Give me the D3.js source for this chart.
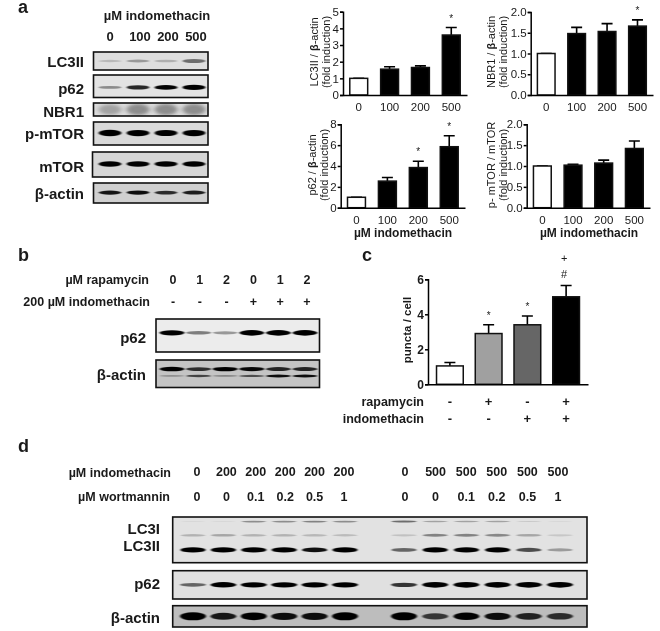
<!DOCTYPE html>
<html>
<head>
<meta charset="utf-8">
<script src="https://d3js.org/d3.v7.min.js"></script>
<style>
    html, body { margin: 0; padding: 0; background: #fff; }
    svg { display: block; filter: blur(0.3px); }
    text { font-family: "Liberation Sans", Arial, sans-serif; fill: #1a1a1a; }
    .bold { font-weight: bold; }
</style>
</head>
<body>
<svg width="660" height="631"></svg>
<script>
// bar chart values
var doseLabels = ["0", "100", "200", "500"];
var lc3Values = [1, 1.55, 1.65, 3.6];
var lc3Errors = [0, 0.15, 0.1, 0.45];
var lc3Stars = ["", "", "", "*"];
var nbr1Values = [1, 1.48, 1.53, 1.66];
var nbr1Errors = [0, 0.15, 0.19, 0.15];
var nbr1Stars = ["", "", "", "*"];
var p62Values = [1, 2.55, 3.85, 5.85];
var p62Errors = [0, 0.35, 0.6, 1.05];
var p62Stars = ["", "", "*", "*"];
var mtorValues = [1, 1.02, 1.07, 1.42];
var mtorErrors = [0, 0.02, 0.07, 0.18];
var mtorStars = ["", "", "", ""];

var punctaGroups = ["control", "rapamycin", "indomethacin", "both"];
var punctaValues = [1.05, 2.9, 3.4, 5.0];
var punctaErrors = [0.2, 0.5, 0.5, 0.65];
var punctaStars = ["", "*", "*", ""];
var punctaFills = ["#ffffff", "#a0a0a0", "#666666", "#000000"];
var rapamycinSigns = ["-", "+", "-", "+"];
var indomethacinSigns = ["-", "-", "+", "+"];

// blot band strengths per lane (0 = none, 1 = black)
var blotALc3 = [0.18, 0.33, 0.22, 0.55];
var blotAP62 = [0.35, 0.75, 0.9, 1];
var blotANbr1 = [0.3, 0.42, 0.42, 0.42];
var blotAPmtor = [1, 0.95, 0.92, 0.95];
var blotAMtor = [0.95, 0.92, 0.92, 0.95];
var blotAActin = [0.82, 0.85, 0.72, 0.78];

var blotBLabelsRapa = ["0", "1", "2", "0", "1", "2"];
var blotBLabelsIndo = ["-", "-", "-", "+", "+", "+"];
var blotBP62 = [0.9, 0.42, 0.32, 1, 1, 1];
var blotBActinUpper = [0.95, 0.7, 0.92, 0.88, 0.75, 0.75];
var blotBActinLower = [0.25, 0.6, 0.3, 0.55, 0.85, 0.85];

var blotDIndo = ["0", "200", "200", "200", "200", "200", "0", "500", "500", "500", "500", "500"];
var blotDWort = ["0", "0", "0.1", "0.2", "0.5", "1", "0", "0", "0.1", "0.2", "0.5", "1"];
var blotDTopBand = [0.05, 0.05, 0.4, 0.4, 0.45, 0.4, 0.55, 0.3, 0.3, 0.3, 0.12, 0.05];
var blotDLc3i = [0.22, 0.28, 0.22, 0.22, 0.2, 0.18, 0.15, 0.45, 0.45, 0.42, 0.28, 0.12];
var blotDLc3ii = [0.95, 0.95, 0.95, 0.95, 0.85, 0.95, 0.5, 1, 1, 1, 0.6, 0.28];
var blotDP62 = [0.5, 0.98, 0.92, 0.92, 0.92, 0.95, 0.7, 1, 1, 1, 1, 1];
var blotDActin = [1, 0.8, 0.95, 0.85, 0.85, 1, 1, 0.65, 0.9, 0.85, 0.75, 0.7];

var svg = d3.select("svg");

var defs = svg.append("defs");
defs.append("filter").attr("id", "band").attr("x", "-30%").attr("y", "-150%").attr("width", "160%").attr("height", "400%")
    .append("feGaussianBlur").attr("stdDeviation", "1.1 0.7");
defs.append("filter").attr("id", "smear").attr("x", "-30%").attr("y", "-50%").attr("width", "160%").attr("height", "200%")
    .append("feGaussianBlur").attr("stdDeviation", "2.5 1.5");

var label = function(x, y, txt, size, anchor, bold) {
    return svg.append("text")
        .attr("x", x)
        .attr("y", y)
        .attr("text-anchor", anchor || "middle")
        .attr("font-size", size)
        .attr("class", bold === false ? "" : "bold")
        .text(txt);
};

// a framed blot with rows of bands
var drawBlot = function(box, rows, laneX, bandWidth) {
    var w = box.x1 - box.x0;
    var h = box.y1 - box.y0;
    var clipId = "clip" + box.x0 + "-" + box.y0;
    defs.append("clipPath").attr("id", clipId)
        .append("rect").attr("x", box.x0).attr("y", box.y0).attr("width", w).attr("height", h);

    var g = svg.append("g").attr("clip-path", "url(#" + clipId + ")");
    g.append("rect")
        .attr("x", box.x0).attr("y", box.y0).attr("width", w).attr("height", h)
        .attr("fill", box.bg);

    rows.forEach(function(row) {
        var strength = d3.scaleLinear().domain([0, 1]).range([row.thin, row.thick]);
        g.selectAll(null)
            .data(row.values)
            .enter().append("ellipse")
                .attr("cx", function(d, i) { return laneX(i); })
                .attr("cy", box.y0 + h * row.at)
                .attr("rx", bandWidth / 2)
                .attr("ry", function(d) { return strength(d); })
                .attr("fill", row.color || "#000")
                .attr("opacity", function(d) { return Math.min(1, d * 1.1); })
                .attr("filter", row.smear ? "url(#smear)" : "url(#band)");
    });

    svg.append("rect")
        .attr("x", box.x0).attr("y", box.y0).attr("width", w).attr("height", h)
        .attr("fill", "none")
        .attr("stroke", "#111")
        .attr("stroke-width", 1.6);
};

// one bar chart with its axes, error bars and stars
var drawBars = function(opt) {
    var x = d3.scaleBand()
        .domain(opt.categories)
        .range([opt.left, opt.right])
        .paddingInner(opt.inner)
        .paddingOuter(opt.outer);
    var y = d3.scaleLinear().domain([0, opt.max]).range([opt.bottom, opt.top]);

    var g = svg.append("g");

    g.append("g").selectAll("path")
        .data(opt.values)
        .enter().append("path")
            .attr("fill", "none")
            .attr("stroke", "#000")
            .attr("stroke-width", 1.6)
            .attr("d", function(d, i) {
                var cx = x(opt.categories[i]) + x.bandwidth() / 2;
                var top = y(d + opt.errors[i]);
                return "M" + cx + "," + y(d) + "V" + top + "M" + (cx - 5.5) + "," + top + "H" + (cx + 5.5);
            });

    g.append("g").selectAll("rect")
        .data(opt.values)
        .enter().append("rect")
            .attr("x", function(d, i) { return x(opt.categories[i]); })
            .attr("y", function(d) { return y(d); })
            .attr("width", x.bandwidth())
            .attr("height", function(d) { return y(0) - y(d); })
            .attr("fill", function(d, i) { return opt.fills ? opt.fills[i] : (i ? "#000" : "#fff"); })
            .attr("stroke", "#111")
            .attr("stroke-width", 1.5);

    var yAxis = g.append("g")
        .attr("transform", "translate(" + opt.left + ",0)")
        .call(d3.axisLeft(y).tickValues(opt.ticks).tickSize(3).tickPadding(1).tickFormat(opt.format));
    var xAxis = g.append("g")
        .attr("transform", "translate(0," + opt.bottom + ")")
        .call(d3.axisBottom(x).tickSize(0).tickPadding(opt.xPad));

    [yAxis, xAxis].forEach(function(a) {
        a.attr("font-family", null);
        a.selectAll("path, line").attr("stroke", "#000").attr("stroke-width", 1.5);
        a.selectAll("text").attr("font-size", opt.fontSize).attr("class", opt.boldTicks ? "bold" : "");
    });
    if (opt.hideXLabels) xAxis.selectAll("text").remove();

    g.append("g").selectAll("text")
        .data(opt.stars)
        .enter().append("text")
            .attr("x", function(d, i) { return x(opt.categories[i]) + x.bandwidth() / 2; })
            .attr("y", function(d, i) { return y(opt.values[i] + opt.errors[i]) - 6; })
            .attr("text-anchor", "middle")
            .attr("font-size", 10)
            .text(function(d) { return d; });
    return x;
};

// rotated two line y label, with the bold beta kept as a tspan
var yTitle = function(x, y, first, second) {
    var t = svg.append("text")
        .attr("transform", "translate(" + x + "," + y + ") rotate(-90)")
        .attr("text-anchor", "middle")
        .attr("font-size", 11);
    first.forEach(function(part) {
        t.append("tspan").attr("class", part.bold ? "bold" : "").text(part.text);
    });
    svg.append("text")
        .attr("transform", "translate(" + (x + 11.5) + "," + y + ") rotate(-90)")
        .attr("text-anchor", "middle")
        .attr("font-size", 11)
        .text(second);
};

// ---- panel a
label(18, 13, "a", 18, "start");
label(157, 20, "µM indomethacin", 13, "middle");

var laneA = d3.scalePoint().domain(d3.range(4)).range([110, 194]);
doseLabels.forEach(function(d, i) {
    label(laneA(i) + (i === 0 ? 0 : 2), 41, d, 13, "middle");
});

var blotsA = [
    {name: "LC3II", base: 67, box: {x0: 93.5, x1: 208, y0: 52, y1: 70, bg: "#dedede"},
        rows: [{at: 0.5, thin: 0.8, thick: 3, values: blotALc3, color: "#222"}]},
    {name: "p62", base: 94, box: {x0: 93.5, x1: 208, y0: 75, y1: 97.5, bg: "#e3e3e3"},
        rows: [{at: 0.55, thin: 0.8, thick: 2.6, values: blotAP62}]},
    {name: "NBR1", base: 117, box: {x0: 93.5, x1: 208, y0: 103, y1: 116, bg: "#dcdcdc"},
        rows: [{at: 0.5, thin: 4, thick: 8, values: blotANbr1, color: "#333", smear: true}]},
    {name: "p-mTOR", base: 139, box: {x0: 93.5, x1: 208, y0: 122, y1: 145, bg: "#d9d9d9"},
        rows: [{at: 0.48, thin: 1.5, thick: 3.2, values: blotAPmtor}]},
    {name: "mTOR", base: 172, box: {x0: 92.5, x1: 208, y0: 152, y1: 177, bg: "#d6d6d6"},
        rows: [{at: 0.48, thin: 1.5, thick: 2.8, values: blotAMtor}]},
    {name: "β-actin", base: 199, box: {x0: 93.5, x1: 208, y0: 183, y1: 203, bg: "#d0d0d0"},
        rows: [{at: 0.48, thin: 1, thick: 2.3, values: blotAActin}]}
];
blotsA.forEach(function(b) {
    drawBlot(b.box, b.rows, laneA, 23);
    label(84, b.base, b.name, 15, "end");
});

// ---- panel a bar charts
var chartStyle = {categories: doseLabels, inner: 0.42, outer: 0.22, fontSize: 11.5, xPad: 8};
var oneDec = d3.format(".1f");

drawBars(Object.assign({}, chartStyle, {left: 343, right: 467, top: 11.7, bottom: 95, max: 5,
    ticks: [0, 1, 2, 3, 4, 5], values: lc3Values, errors: lc3Errors, stars: lc3Stars, format: d3.format("d")}));
drawBars(Object.assign({}, chartStyle, {left: 530.7, right: 653, top: 12, bottom: 95, max: 2,
    ticks: [0, 0.5, 1, 1.5, 2], values: nbr1Values, errors: nbr1Errors, stars: nbr1Stars, format: oneDec}));
drawBars(Object.assign({}, chartStyle, {left: 340.7, right: 465, top: 124.3, bottom: 207.7, max: 8,
    ticks: [0, 2, 4, 6, 8], values: p62Values, errors: p62Errors, stars: p62Stars, format: d3.format("d")}));
drawBars(Object.assign({}, chartStyle, {left: 526.7, right: 650, top: 124.3, bottom: 207.7, max: 2,
    ticks: [0, 0.5, 1, 1.5, 2], values: mtorValues, errors: mtorErrors, stars: mtorStars, format: oneDec}));

yTitle(318, 52, [{text: "LC3II / "}, {text: "β", bold: true}, {text: "-actin"}], "(fold induction)");
yTitle(495, 52, [{text: "NBR1 / "}, {text: "β", bold: true}, {text: "-actin"}], "(fold induction)");
yTitle(316, 165, [{text: "p62 / "}, {text: "β", bold: true}, {text: "-actin"}], "(fold induction)");
yTitle(495, 165, [{text: "p- mTOR / mTOR"}], "(fold induction)");

label(403, 237, "µM indomethacin", 12);
label(589, 237, "µM indomethacin", 12);

// ---- panel b
label(18, 261, "b", 18, "start");
label(149, 284, "µM rapamycin", 12.5, "end");
label(150, 306, "200 µM indomethacin", 12.5, "end");

var laneB = d3.scalePoint().domain(d3.range(6)).range([172, 305]);
var laneBText = d3.scalePoint().domain(d3.range(6)).range([173, 307]);
blotBLabelsRapa.forEach(function(d, i) { label(laneBText(i), 284, d, 12.5); });
blotBLabelsIndo.forEach(function(d, i) { label(laneBText(i), 306, d, 12.5); });

drawBlot({x0: 156, x1: 319.5, y0: 319, y1: 352, bg: "#ececec"},
    [{at: 0.42, thin: 1, thick: 2.8, values: blotBP62}], laneB, 25);
drawBlot({x0: 156, x1: 319.5, y0: 360, y1: 387.5, bg: "#c4c4c4"},
    [{at: 0.33, thin: 1, thick: 2.3, values: blotBActinUpper},
     {at: 0.58, thin: 0.6, thick: 1.6, values: blotBActinLower}], laneB, 25);
label(146, 343, "p62", 15, "end");
label(146, 380, "β-actin", 15, "end");

// ---- panel c
label(362, 261, "c", 18, "start");
var xC = drawBars({categories: punctaGroups, left: 428, right: 588, top: 279.3, bottom: 384.3, max: 6,
    inner: 0.31, outer: 0.22, fontSize: 12, xPad: 8, boldTicks: true, hideXLabels: true,
    ticks: [0, 2, 4, 6], values: punctaValues, errors: punctaErrors, stars: punctaStars,
    fills: punctaFills, format: d3.format("d")});

svg.append("text")
    .attr("transform", "translate(411,330) rotate(-90)")
    .attr("text-anchor", "middle")
    .attr("font-size", 11.5)
    .attr("class", "bold")
    .text("puncta / cell");

label(424, 406, "rapamycin", 12.5, "end");
label(424, 423, "indomethacin", 12.5, "end");
punctaGroups.forEach(function(g, i) {
    var cx = xC(g) + xC.bandwidth() / 2;
    label(cx, 406, rapamycinSigns[i], 13);
    label(cx, 423, indomethacinSigns[i], 13);
});
label(xC("both") + xC.bandwidth() / 2 - 2, 262, "+", 11, "middle", false);
label(xC("both") + xC.bandwidth() / 2 - 2, 278, "#", 11, "middle", false);

// ---- panel d
label(18, 452, "d", 18, "start");
label(171, 477, "µM indomethacin", 12.5, "end");
label(170, 501, "µM wortmannin", 12.5, "end");

var laneD = d3.scaleLinear().domain([0, 5, 6, 11]).range([193, 345, 404, 560]);
var laneDText = d3.scaleLinear().domain([0, 5, 6, 11]).range([197, 344, 405, 558]);
blotDIndo.forEach(function(d, i) { label(laneDText(i), 476, d, 12.5); });
blotDWort.forEach(function(d, i) { label(laneDText(i), 501, d, 12.5); });

drawBlot({x0: 172.7, x1: 587, y0: 517, y1: 562.7, bg: "#e2e2e2"},
    [{at: 0.1, thin: 0.4, thick: 1.5, values: blotDTopBand, color: "#222"},
     {at: 0.4, thin: 1, thick: 2, values: blotDLc3i, color: "#222"},
     {at: 0.72, thin: 1.2, thick: 2.6, values: blotDLc3ii}], laneD, 25);
drawBlot({x0: 172.7, x1: 587, y0: 570.7, y1: 599, bg: "#e0e0e0"},
    [{at: 0.5, thin: 0.8, thick: 2.8, values: blotDP62}], laneD, 26);
drawBlot({x0: 172.7, x1: 587, y0: 605.7, y1: 627, bg: "#bdbdbd"},
    [{at: 0.5, thin: 1.5, thick: 4, values: blotDActin}], laneD, 26);

label(160, 534, "LC3I", 15, "end");
label(160, 551, "LC3II", 15, "end");
label(160, 589, "p62", 15, "end");
label(160, 623, "β-actin", 15, "end");
</script>
</body>
</html>
